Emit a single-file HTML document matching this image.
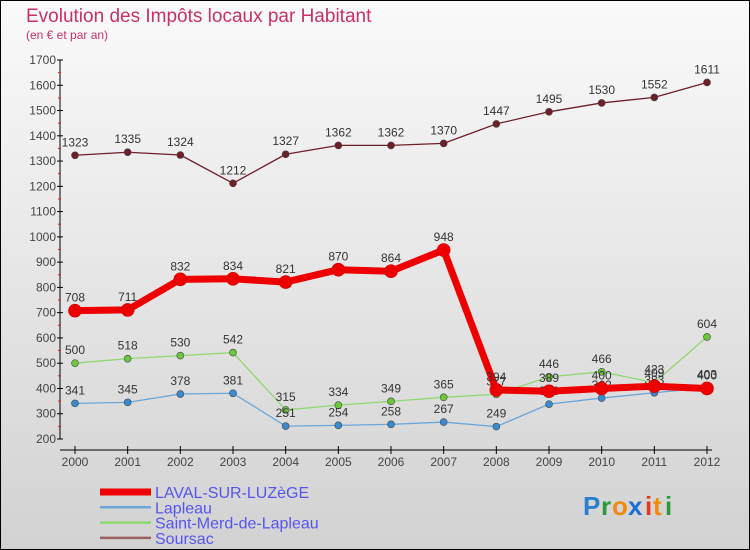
<!DOCTYPE html>
<html><head><meta charset="utf-8"><style>
body{margin:0}
svg{display:block;font-family:"Liberation Sans",sans-serif}
</style></head><body>
<svg id="c" width="750" height="550" viewBox="0 0 750 550" xmlns="http://www.w3.org/2000/svg">
<defs><linearGradient id="bg" x1="0" y1="0" x2="0" y2="1"><stop offset="0" stop-color="#fafafa"/><stop offset="1" stop-color="#d2d2d2"/></linearGradient></defs>
<rect x="0.5" y="0.5" width="749" height="549" fill="url(#bg)" stroke="#000"/>
<text x="26" y="22" font-size="19" fill="#c8306a">Evolution des Impôts locaux par Habitant</text>
<text x="26" y="39" font-size="12" fill="#c8306a">(en € et par an)</text>
<g id="axes"></g><g id="series"></g><g id="legend"></g>
<g font-size="26" font-weight="bold">
<text x="583" y="515" fill="#2a7fd0">P</text><text x="601" y="515" fill="#2a9a3a">r</text><text x="612" y="515" fill="#f08a10">o</text><text x="628" y="515" fill="#1a6fd0">x</text><text x="645" y="515" fill="#e03a20">i</text><text x="653" y="515" fill="#f08a10">t</text><text x="665" y="515" fill="#2a9a3a">i</text>
</g>
</svg>
<script>
const years=[2000,2001,2002,2003,2004,2005,2006,2007,2008,2009,2010,2011,2012];
const laval=[708,711,832,834,821,870,864,948,394,389,400,409,400];
const lapleau=[341,345,378,381,251,254,258,267,249,338,362,383,403];
const saintMerd=[500,518,530,542,315,334,349,365,377,446,466,423,604];
const soursac=[1323,1335,1324,1212,1327,1362,1362,1370,1447,1495,1530,1552,1611];
const yTicks=[200,300,400,500,600,700,800,900,1000,1100,1200,1300,1400,1500,1600,1700];
const names=["LAVAL-SUR-LUZèGE","Lapleau","Saint-Merd-de-Lapleau","Soursac"];
const NS="http://www.w3.org/2000/svg";
const x=i=>75+i*(707-75)/12;
const y=v=>439-(v-200)*(439-60)/1500;
function mk(tag,attrs,parent,txt){const e=document.createElementNS(NS,tag);for(const k in attrs)e.setAttribute(k,attrs[k]);if(txt!==undefined)e.textContent=txt;parent.appendChild(e);return e;}
const ax=document.getElementById('axes');
let e=mk('line',{x1:60,y1:60,x2:60,y2:439,stroke:'#000'},ax);


e=mk('line',{x1:60,y1:450,x2:712,y2:450,stroke:'#000'},ax);


yTicks.forEach((t,i)=>{
 mk('line',{x1:57,y1:y(t),x2:63,y2:y(t),stroke:'#000'},ax);
 if(i<yTicks.length-1) mk('line',{x1:58,y1:(y(t)+y(yTicks[i+1]))/2,x2:61,y2:(y(t)+y(yTicks[i+1]))/2,stroke:'#e02020'},ax);
 const l=mk('text',{x:56,y:y(t)+4,'font-size':12,'text-anchor':'end',fill:'#444'},ax,t);
 
 
});
years.forEach((yr,i)=>{
 mk('line',{x1:x(i),y1:446,x2:x(i),y2:454,stroke:'#000'},ax);
 const l=mk('text',{x:x(i),y:466,'font-size':12,'text-anchor':'middle',fill:'#444'},ax,yr);
 
 
});
const sg=document.getElementById('series');
const specs=[[soursac,'#6e1f28','#6e1f28',1.3,3.5,'soursac'],[saintMerd,'#8fd870','#6cc83a',1.3,3.5,'saint-merd-de-lapleau'],[lapleau,'#6aa6d8','#3a8ad0',1.3,3.5,'lapleau'],[laval,'#ee0000','#ee0000',7,6.5,'laval-sur-luzege']];
specs.forEach(([d,c,fc,w,r,n])=>{
 const g=mk('g',{},sg);
 
 
 const p=mk('polyline',{points:d.map((v,i)=>x(i)+','+y(v)).join(' '),fill:'none',stroke:c,'stroke-width':w,'stroke-linejoin':'round'},g);
 
 
 d.forEach((v,i)=>{
  const m=mk('circle',{cx:x(i),cy:y(v),r:r,fill:fc,stroke:n==='laval-sur-luzege'?'#c00':'#444','stroke-width':0.6},g);
  
  
  const t=mk('text',{x:x(i),y:y(v)-9,'font-size':12,'text-anchor':'middle',fill:'#333'},g,v);
  
  
 });
});
const lg=document.getElementById('legend');
const lc=['#ee0000','#6aa6d8','#8fd870','#9a6060'],lw=[7,2.5,2.5,2.5];
names.forEach((n,i)=>{
 const yy=492+i*15.3;
 const g=mk('g',{},lg);
 
 
 mk('line',{x1:100,y1:yy,x2:151,y2:yy,stroke:lc[i],'stroke-width':lw[i]},g);
 mk('text',{x:155,y:yy+6,'font-size':16,fill:'#5555ee'},g,n);
});
</script>
</body></html>
